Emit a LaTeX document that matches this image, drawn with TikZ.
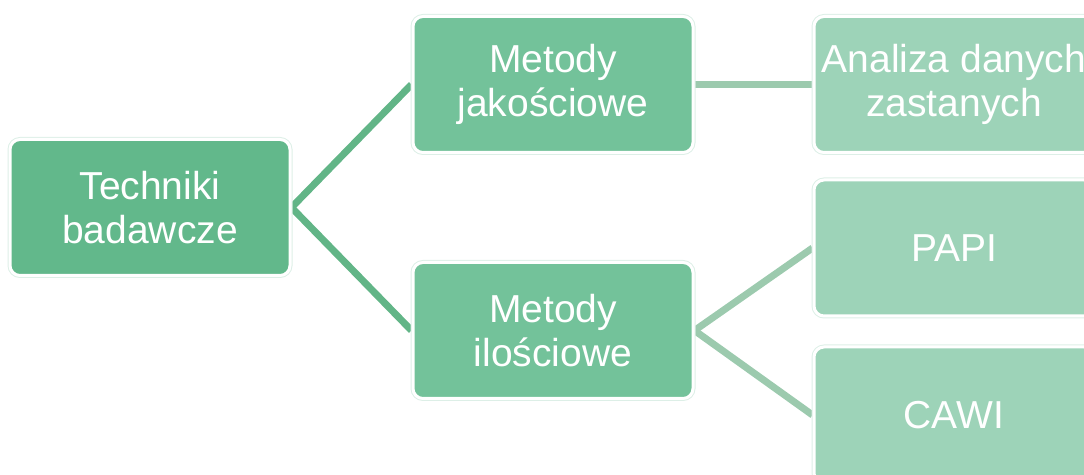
\documentclass[tikz,border=0pt]{standalone}
\usepackage{fontspec}
\setmainfont{Liberation Sans}
\usetikzlibrary{backgrounds}
\definecolor{cA}{HTML}{62B88B}
\definecolor{cB}{HTML}{73C29A}
\definecolor{cC}{HTML}{9DD3B8}
\definecolor{lA}{HTML}{62B587}
\definecolor{lB}{HTML}{9CCAAE}
\definecolor{rim}{HTML}{DDEFE7}
\tikzset{
  box/.style={rounded corners=10pt, draw=white, line width=3pt,
    preaction={draw=rim, line width=5pt},
    minimum width=280pt, minimum height=136pt, inner sep=0pt,
    align=center, text=white, font=\fontsize{39}{44}\selectfont},
  lvlA/.style={box, fill=cA},
  lvlB/.style={box, fill=cB},
  lvlC/.style={box, fill=cC},
  linkA/.style={draw=lA, line width=7pt},
  linkB/.style={draw=lB, line width=7pt}
}
\begin{document}
\begin{tikzpicture}[x=1pt,y=1pt]
\useasboundingbox (0,0) rectangle (1084,474);
\clip (0,0) rectangle (1084,474);
\node[lvlA] (tech) at (150,266.5) {Techniki\\badawcze};
\node[lvlB] (jak) at (553,389.5) {Metody\\jakościowe};
\node[lvlB] (ilo) at (553,143.5) {Metody\\ilościowe};
\node[lvlC] (ana) at (954,389.5) {Analiza danych\\zastanych};
\node[lvlC] (papi) at (954,226) {PAPI};
\node[lvlC] (cawi) at (954,59) {CAWI};
\begin{scope}[on background layer]
\draw[linkA] (tech.east) -- (jak.west);
\draw[linkA] (tech.east) -- (ilo.west);
\draw[linkB] (jak.east) -- (ana.west);
\draw[linkB] (ilo.east) -- (papi.west);
\draw[linkB] (ilo.east) -- (cawi.west);
\end{scope}
\end{tikzpicture}
\end{document}
